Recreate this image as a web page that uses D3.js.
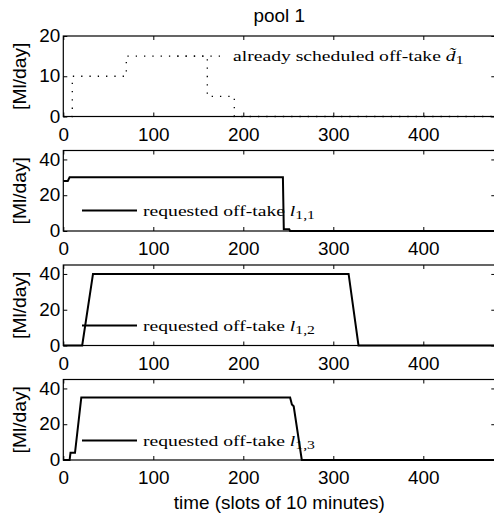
<!DOCTYPE html>
<html>
<head>
<meta charset="utf-8">
<script src="https://cdn.jsdelivr.net/npm/d3@7"></script>
<style>
  body { margin: 0; background: #fff; }
  svg { display: block; }
</style>
</head>
<body>
<svg></svg>
<script>
        // Data (time in slots of 10 minutes, flows in Ml/day)
        var timeTicks = [0, 100, 200, 300, 400];
        var ticks20 = [0, 10, 20];
        var ticks45 = [0, 20, 40];

        // already scheduled off-take d~1
        var schedT = [0, 10, 10, 70, 70, 160, 160, 190, 190, 480];
        var schedV = [0, 0, 10, 10, 15, 15, 5, 5, 0, 0];

        // requested off-take l1,1
        var l11T = [0, 5, 7, 244, 245, 251, 252, 480];
        var l11V = [28, 28, 30, 30, 1, 1, 0, 0];

        // requested off-take l1,2
        var l12T = [0, 21, 33, 317, 328, 480];
        var l12V = [0, 0, 40, 40, 0, 0];

        // requested off-take l1,3
        var l13T = [0, 7, 8, 13, 20, 252, 254, 256, 265, 480];
        var l13V = [0, 0, 4, 4, 35, 35, 31, 30, 0, 0];

        // Layout
        var W = 494, H = 515;
        var left = 63.3, plotW = 432;
        var plotH = 80.5;
        var tops = [36, 150.5, 265, 379.5];

        var sans = "'Liberation Sans', Arial, sans-serif";
        var serif = "'Liberation Serif', 'Times New Roman', serif";
        var sansSize = 17.5, sansSx = 1.08;
        var serifSize = 15, serifSx = 1.31;
        var dots = "1.3,7";

        var panels = [
            {t: schedT, v: schedV, yMax: 20, yTicks: ticks20, dotted: true,
             legX: 172, legY: 20.1, main: "already scheduled off-take ", sym: "d\u0303", sub: "1"},
            {t: l11T, v: l11V, yMax: 45, yTicks: ticks45, dotted: false,
             legX: 82, legY: 60, main: "requested off-take ", sym: "l", sub: "1,1"},
            {t: l12T, v: l12V, yMax: 45, yTicks: ticks45, dotted: false,
             legX: 82, legY: 60.5, main: "requested off-take ", sym: "l", sub: "1,2"},
            {t: l13T, v: l13V, yMax: 45, yTicks: ticks45, dotted: false,
             legX: 82, legY: 61, main: "requested off-take ", sym: "l", sub: "1,3"}
        ];

        var svg = d3.select("svg")
                    .attr("width", W)
                    .attr("height", H);

        var xScale = d3.scaleLinear()
                       .domain([0, 480])
                       .range([0, plotW]);

        // helper: horizontally stretched text (the original figure is a bit wider than tall)
        function stretchText(sel, x, y, sx) {
            sel.attr("x", 0).attr("y", 0)
               .attr("transform", "translate(" + x + "," + y + ") scale(" + sx + ",1)");
        }

        panels.forEach(function(p, i) {
            var g = svg.append("g")
                       .attr("transform", "translate(" + left + "," + tops[i] + ")");

            var yScale = d3.scaleLinear()
                           .domain([0, p.yMax])
                           .range([plotH, 0]);

            // Bottom axis with labels, ticks pointing inward
            var xAxis = d3.axisBottom(xScale)
                          .tickValues(timeTicks)
                          .tickSizeInner(-4)
                          .tickSizeOuter(0)
                          .tickPadding(0);
            var xg = g.append("g")
                      .attr("transform", "translate(0," + plotH + ")")
                      .call(xAxis);
            xg.selectAll("text").attr("dy", null).each(function() {
                stretchText(d3.select(this), 0, 24, sansSx);
            });

            // Top axis (ticks only)
            g.append("g")
             .call(d3.axisTop(xScale).tickValues(timeTicks).tickSizeInner(-4).tickSizeOuter(0).tickFormat(""));

            // Left axis with labels
            var yg = g.append("g")
                      .call(d3.axisLeft(yScale).tickValues(p.yTicks).tickSizeInner(-4).tickSizeOuter(0).tickPadding(0));
            yg.selectAll("text").each(function() {
                stretchText(d3.select(this), -3, 0, sansSx);
            });

            // Right axis (ticks only)
            g.append("g")
             .attr("transform", "translate(" + plotW + ",0)")
             .call(d3.axisRight(yScale).tickValues(p.yTicks).tickSizeInner(-4).tickSizeOuter(0).tickFormat(""));

            g.selectAll(".domain").remove();
            g.selectAll(".tick line").attr("stroke", "#000");
            g.selectAll(".tick text")
             .attr("font-family", sans)
             .attr("font-size", sansSize + "px")
             .attr("fill", "#000");

            // Box
            g.append("rect")
             .attr("x", 0).attr("y", 0)
             .attr("width", plotW).attr("height", plotH)
             .attr("fill", "none")
             .attr("stroke", "#000")
             .attr("stroke-width", 1.2);

            // Data line
            var pts = p.t.map(function(t, k) { return [xScale(t), yScale(p.v[k])]; });
            var line = d3.line();
            var path = g.append("path")
                        .datum(pts)
                        .attr("d", line)
                        .attr("fill", "none")
                        .attr("stroke", "#000");
            if (p.dotted) {
                path.attr("stroke-width", 1.3).attr("stroke-dasharray", dots);
            } else {
                path.attr("stroke-width", 2).attr("stroke-linejoin", "miter");
            }

            // Legend sample line
            var lx = p.legX - left;
            var leg = g.append("line")
                       .attr("x1", lx).attr("x2", lx + 55)
                       .attr("y1", p.legY).attr("y2", p.legY)
                       .attr("stroke", "#000")
                       .attr("stroke-width", p.dotted ? 1.3 : 2);
            if (p.dotted) {
                // keep the dots in phase with the data line where they overlap
                var len = 0;
                for (var k = 1; k < pts.length; k++) {
                    var a = pts[k - 1], b = pts[k];
                    if (Math.abs(a[1] - p.legY) < 1 && Math.abs(b[1] - p.legY) < 1 && a[0] <= lx && b[0] >= lx) {
                        len += lx - a[0];
                        break;
                    }
                    len += Math.hypot(b[0] - a[0], b[1] - a[1]);
                }
                leg.attr("stroke-dasharray", dots).attr("stroke-dashoffset", len % 8.3);
            }

            // Legend text
            var txt = g.append("text")
                       .attr("font-family", serif)
                       .attr("font-size", serifSize + "px")
                       .attr("fill", "#000");
            stretchText(txt, lx + 61, p.legY + 5, serifSx);
            txt.append("tspan").text(p.main);
            txt.append("tspan").attr("font-style", "italic").text(p.sym);
            txt.append("tspan")
               .attr("font-size", (serifSize * 0.8) + "px")
               .attr("dy", 3)
               .text(p.sub);

            // Y axis label
            g.append("text")
             .attr("text-anchor", "middle")
             .attr("font-family", sans)
             .attr("font-size", sansSize + "px")
             .attr("fill", "#000")
             .attr("transform", "translate(" + (25.5 - left) + "," + (plotH / 2) + ") rotate(-90) scale(1.1,1)")
             .text("[Ml/day]");
        });

        // Title
        var title = svg.append("text")
                       .attr("text-anchor", "middle")
                       .attr("font-family", sans)
                       .attr("font-size", sansSize + "px")
                       .attr("fill", "#000")
                       .text("pool 1");
        stretchText(title, left + plotW / 2, 22, sansSx);

        // X axis label
        var xl = svg.append("text")
                    .attr("text-anchor", "middle")
                    .attr("font-family", sans)
                    .attr("font-size", sansSize + "px")
                    .attr("fill", "#000")
                    .text("time (slots of 10 minutes)");
        stretchText(xl, left + plotW / 2, 509, sansSx);
</script>
</body>
</html>
